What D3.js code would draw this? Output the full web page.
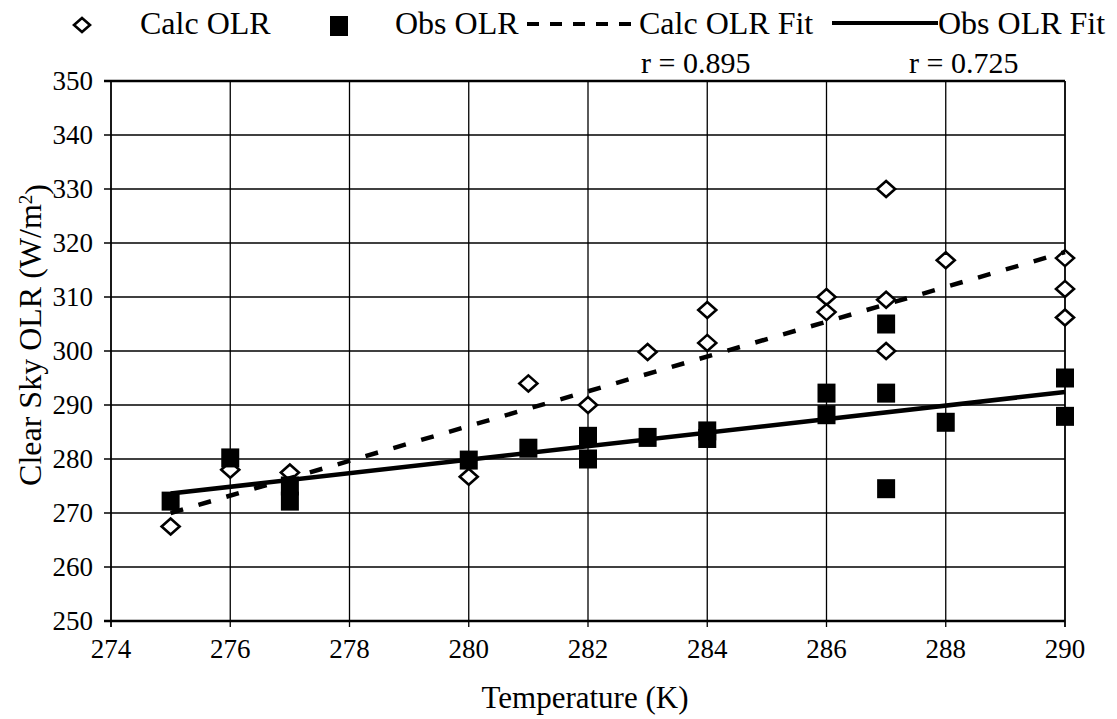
<!DOCTYPE html>
<html>
<head>
<meta charset="utf-8">
<script src="https://cdn.jsdelivr.net/npm/d3@7"></script>
<style>
  body { margin: 0; background: #fff; }
  text { font-family: "Liberation Serif", "Times New Roman", serif; fill: #000; }
</style>
</head>
<body>
<div id="chart"></div>
<script>
// calculated clear sky OLR, one entry per point
const calcTemp = [275, 276, 277, 280, 281, 282, 283, 284, 284, 286, 286, 287, 287, 287, 288, 290, 290, 290]
const calcOlr = [267.5, 278, 277.5, 276.7, 294, 290, 299.8, 301.5, 307.6, 310, 307.2, 330, 309.5, 300, 316.8, 317.2, 311.5, 306.2]

// observed clear sky OLR
const obsTemp = [275, 276, 277, 277, 280, 281, 282, 282, 283, 284, 284, 286, 286, 287, 287, 287, 288, 290, 290]
const obsOlr = [272.2, 280.2, 275, 272.2, 279.8, 282, 284.2, 280, 284, 285.2, 283.8, 292.2, 288.2, 305, 292.2, 274.5, 286.8, 295, 287.9]

// linear fits, end points
const fitTemp = [275, 290]
const calcFit = [270, 318.3]
const obsFit = [273.6, 292.4]

const xTicks = [274, 276, 278, 280, 282, 284, 286, 288, 290]
const yTicks = [250, 260, 270, 280, 290, 300, 310, 320, 330, 340, 350]
const rLabels = ['r = 0.895', 'r = 0.725']
const legendNames = ['Calc OLR', 'Obs OLR', 'Calc OLR Fit', 'Obs OLR Fit']

const width = 1117, height = 719

const svg = d3.select('#chart')
    .append('svg')
    .attr('width', width)
    .attr('height', height)

const x = d3.scaleLinear().domain([274, 290]).range([111, 1065])
const y = d3.scaleLinear().domain([250, 350]).range([621, 81])

// horizontal grid lines
svg.append('g')
    .selectAll('line')
    .data(yTicks)
    .enter()
    .append('line')
    .attr('x1', x(274) - 7)
    .attr('x2', x(290))
    .attr('y1', (d) => y(d))
    .attr('y2', (d) => y(d))
    .attr('stroke', '#000')
    .attr('stroke-width', (d) => (d === 250 || d === 350) ? 2.5 : 1.5)

// vertical grid lines
svg.append('g')
    .selectAll('line')
    .data(xTicks)
    .enter()
    .append('line')
    .attr('x1', (d) => x(d))
    .attr('x2', (d) => x(d))
    .attr('y1', y(350))
    .attr('y2', y(250) + 6)
    .attr('stroke', '#000')
    .attr('stroke-width', (d) => (d === 274 || d === 290) ? 1.8 : 1.3)

// tick labels
svg.append('g')
    .selectAll('text')
    .data(xTicks)
    .enter()
    .append('text')
    .attr('x', (d) => x(d))
    .attr('y', 658)
    .attr('text-anchor', 'middle')
    .style('font-size', '27px')
    .text((d) => d)

svg.append('g')
    .selectAll('text')
    .data(yTicks)
    .enter()
    .append('text')
    .attr('x', 93)
    .attr('y', (d) => y(d))
    .attr('dy', '0.35em')
    .attr('text-anchor', 'end')
    .style('font-size', '27px')
    .text((d) => d)

// axis titles
svg.append('text')
    .attr('x', 585)
    .attr('y', 708)
    .attr('text-anchor', 'middle')
    .style('font-size', '31px')
    .text('Temperature (K)')

const yTitle = svg.append('text')
    .attr('transform', 'translate(41,335) rotate(-90)')
    .attr('text-anchor', 'middle')
    .style('font-size', '32px')
yTitle.append('tspan').text('Clear Sky OLR (W/m')
yTitle.append('tspan').attr('dy', '-0.45em').style('font-size', '19px').text('2')
yTitle.append('tspan').attr('dy', '0.45em').text(')')

// diamond marker, a bit wider than tall
const diamond = 'M-9,0L0,-8L9,0L0,8Z'

// calc points
svg.append('g')
    .selectAll('path')
    .data(calcTemp)
    .enter()
    .append('path')
    .attr('d', diamond)
    .attr('transform', (d, i) => 'translate(' + x(d) + ',' + y(calcOlr[i]) + ')')
    .attr('fill', '#fff')
    .attr('stroke', '#000')
    .attr('stroke-width', 2.6)

// obs points
svg.append('g')
    .selectAll('rect')
    .data(obsTemp)
    .enter()
    .append('rect')
    .attr('x', (d) => x(d) - 9)
    .attr('y', (d, i) => y(obsOlr[i]) - 9.5)
    .attr('width', 18)
    .attr('height', 19)
    .attr('fill', '#000')

// fit lines
const fitLine = (vals) => d3.line()
    .x((d) => x(d))
    .y((d, i) => y(vals[i]))

svg.append('path')
    .datum(fitTemp)
    .attr('d', fitLine(calcFit))
    .attr('fill', 'none')
    .attr('stroke', '#000')
    .attr('stroke-width', 4.5)
    .attr('stroke-dasharray', '13,16')

svg.append('path')
    .datum(fitTemp)
    .attr('d', fitLine(obsFit))
    .attr('fill', 'none')
    .attr('stroke', '#000')
    .attr('stroke-width', 4.5)

// r values
svg.selectAll('.rlab')
    .data(rLabels)
    .enter()
    .append('text')
    .attr('class', 'rlab')
    .attr('x', (d, i) => [641, 909][i])
    .attr('y', 73)
    .style('font-size', '30px')
    .text((d) => d)

// legend
const legend = svg.append('g')
legend.append('path')
    .attr('d', 'M-8,0L0,-7L8,0L0,7Z')
    .attr('transform', 'translate(82,25)')
    .attr('fill', '#fff')
    .attr('stroke', '#000')
    .attr('stroke-width', 2.6)
legend.append('rect')
    .attr('x', 330).attr('y', 16)
    .attr('width', 18).attr('height', 20)
    .attr('fill', '#000')
legend.append('line')
    .attr('x1', 527).attr('x2', 639)
    .attr('y1', 24).attr('y2', 24)
    .attr('stroke', '#000')
    .attr('stroke-width', 4)
    .attr('stroke-dasharray', '12,11')
legend.append('line')
    .attr('x1', 832).attr('x2', 938)
    .attr('y1', 23).attr('y2', 23)
    .attr('stroke', '#000')
    .attr('stroke-width', 4)

legend.selectAll('text')
    .data(legendNames)
    .enter()
    .append('text')
    .attr('x', (d, i) => [140, 395, 639, 938][i])
    .attr('y', 34)
    .style('font-size', '32px')
    .text((d) => d)
</script>
</body>
</html>
